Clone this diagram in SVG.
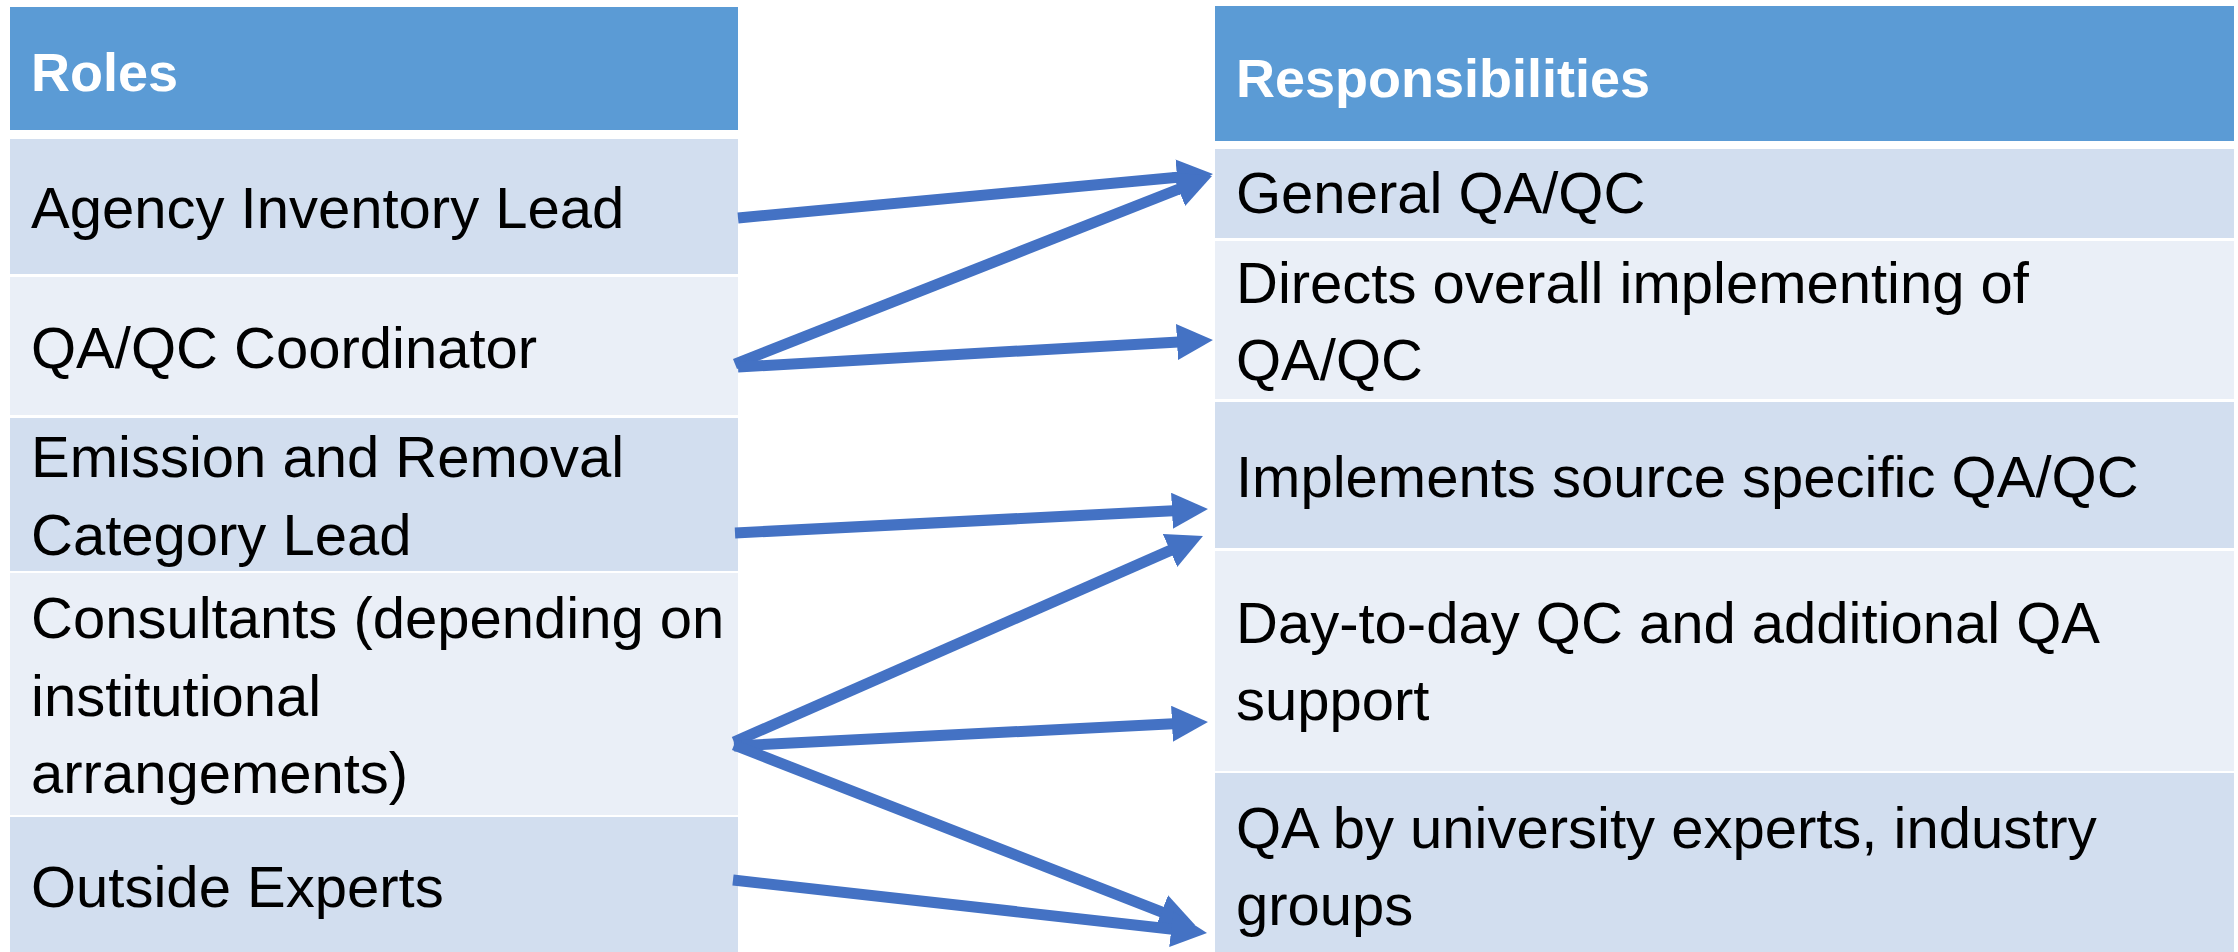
<svg xmlns="http://www.w3.org/2000/svg" width="2238" height="952" viewBox="0 0 2238 952">
<defs>
<style>
.hdr{fill:#5B9BD5}
.r1{fill:#D2DEEF}
.r2{fill:#EAEFF7}
.ht{font-family:"Liberation Sans",Arial,sans-serif;font-weight:bold;font-size:54px;fill:#FFFFFF}
.t{font-family:"Liberation Sans",Arial,sans-serif;font-size:58px;fill:#000000}
.c{stroke:#4472C4;stroke-width:11;fill:none;stroke-linecap:butt;marker-end:url(#ah)}
</style>
<marker id="ah" markerUnits="userSpaceOnUse" markerWidth="36" markerHeight="36" refX="6" refY="18" orient="auto" viewBox="0 0 36 36">
<path d="M0,0 L36,18 L0,36 Z" fill="#4472C4"/>
</marker>
</defs>
<rect width="2238" height="952" fill="#FFFFFF"/>
<g id="roles-header"><rect class="hdr" x="10" y="7" width="728" height="123"/><text class="ht" x="31" y="91">Roles</text></g>
<g id="role-agency"><rect class="r1" x="10" y="139" width="728" height="135"/><text class="t" x="31" y="228">Agency Inventory Lead</text></g>
<g id="role-coordinator"><rect class="r2" x="10" y="277" width="728" height="138"/><text class="t" x="31" y="368">QA/QC Coordinator</text></g>
<g id="role-category"><rect class="r1" x="10" y="418" width="728" height="153"/><text class="t" x="31" y="477">Emission and Removal</text><text class="t" x="31" y="555">Category Lead</text></g>
<g id="role-consultants"><rect class="r2" x="10" y="573" width="728" height="242"/><text class="t" x="31" y="638">Consultants (depending on</text><text class="t" x="31" y="716">institutional</text><text class="t" x="31" y="793">arrangements)</text></g>
<g id="role-outside"><rect class="r1" x="10" y="817" width="728" height="135"/><text class="t" x="31" y="907">Outside Experts</text></g>
<g id="resp-header"><rect class="hdr" x="1215" y="6" width="1019" height="135"/><text class="ht" x="1236" y="97">Responsibilities</text></g>
<g id="resp-general"><rect class="r1" x="1215" y="149" width="1019" height="89"/><text class="t" x="1236" y="213">General QA/QC</text></g>
<g id="resp-directs"><rect class="r2" x="1215" y="241" width="1019" height="158"/><text class="t" x="1236" y="303">Directs overall implementing of</text><text class="t" x="1236" y="380">QA/QC</text></g>
<g id="resp-implements"><rect class="r1" x="1215" y="402" width="1019" height="146"/><text class="t" x="1236" y="497">Implements source specific QA/QC</text></g>
<g id="resp-daytoday"><rect class="r2" x="1215" y="551" width="1019" height="220"/><text class="t" x="1236" y="643">Day-to-day QC and additional QA</text><text class="t" x="1236" y="720">support</text></g>
<g id="resp-university"><rect class="r1" x="1215" y="773" width="1019" height="179"/><text class="t" x="1236" y="848">QA by university experts, industry</text><text class="t" x="1236" y="925">groups</text></g>
<g id="connectors">
<line class="c" x1="738" y1="218" x2="1183.1" y2="176.8"/>
<line class="c" x1="735" y1="364" x2="1184.1" y2="187"/>
<line class="c" x1="738" y1="367" x2="1183" y2="341.7"/>
<line class="c" x1="735" y1="533" x2="1178" y2="510.5"/>
<line class="c" x1="734" y1="742" x2="1175.5" y2="548.1"/>
<line class="c" x1="734" y1="746" x2="1178" y2="723.5"/>
<line class="c" x1="734" y1="745" x2="1167.1" y2="914.1"/>
<line class="c" x1="733" y1="880" x2="1177.2" y2="929.7"/>
</g>
</svg>
